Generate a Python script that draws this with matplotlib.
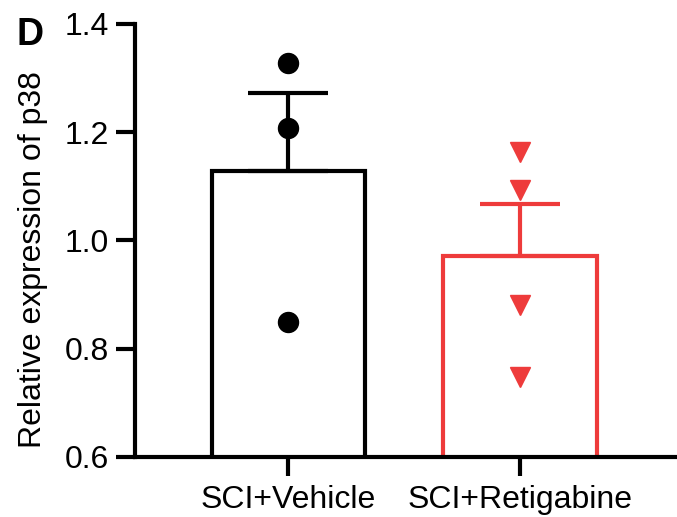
import numpy as np
import matplotlib
matplotlib.use("Agg")
import matplotlib.pyplot as plt

plt.rcParams['font.family'] = ['Liberation Sans', 'DejaVu Sans']

categories = ["SCI+Vehicle", "SCI+Retigabine"]
vehicle_points = [1.328, 1.207, 0.850]
retigabine_points = [1.163, 1.093, 0.880, 0.747]
colors = ["#000000", "#EE3B3B"]
markers = ["o", "v"]
y_ticks = [0.6, 0.8, 1.0, 1.2, 1.4]

groups = [vehicle_points, retigabine_points]
means = [np.mean(g) for g in groups]
sems = [np.std(g, ddof=1) / np.sqrt(len(g)) for g in groups]

fig = plt.figure(figsize=(6.77, 5.17), dpi=100)
ax = fig.add_axes([0.1994, 0.1161, 0.8006, 0.8375])

x = np.arange(len(categories))
for i in range(len(categories)):
    ax.bar(x[i], means[i], width=0.66, color="white", edgecolor=colors[i],
           linewidth=3, zorder=2)
    ax.errorbar(x[i], means[i], yerr=[[0], [sems[i]]], color=colors[i],
                elinewidth=3, capsize=28.8, capthick=3, zorder=3, fmt="none")
    ax.plot([x[i]] * len(groups[i]), groups[i], linestyle="none",
            marker=markers[i], color=colors[i],
            markersize=14.4 if markers[i] == "o" else 14.0, zorder=4,
            clip_on=False)

ax.set_ylim(0.6, 1.4)
ax.set_xlim(-0.66, 1.677)
ax.set_yticks(y_ticks)
ax.set_yticklabels([f"{t:.1f}" for t in y_ticks])
ax.set_xticks(x)
ax.set_xticklabels(categories)
ax.tick_params(axis="both", labelsize=23, width=3, length=14, color="black")
ax.tick_params(axis="y", pad=5)
ax.tick_params(axis="x", pad=6)
for s in ["top", "right"]:
    ax.spines[s].set_visible(False)
for s in ["left", "bottom"]:
    ax.spines[s].set_linewidth(3)
ax.set_ylabel("Relative expression of p38", fontsize=23)
ax.yaxis.set_label_coords(-0.161, 0.457)

fig.text(0.025, 0.933, "D", fontsize=27, fontweight="bold", va="center", ha="left")

fig.savefig("out.png", dpi=100)
